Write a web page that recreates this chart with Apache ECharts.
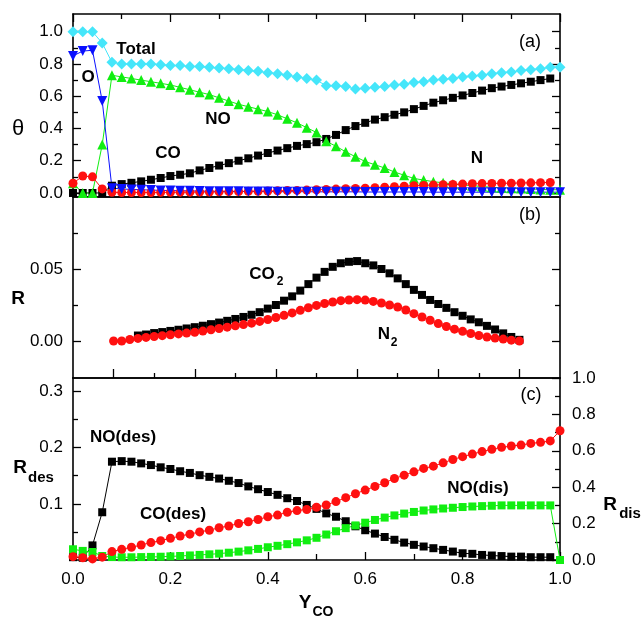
<!DOCTYPE html>
<html>
<head>
<meta charset="utf-8">
<script src="https://cdn.jsdelivr.net/npm/echarts@6.0.0/dist/echarts.min.js"></script>
<style>
  html, body { margin: 0; padding: 0; background: #fff; }
  #chart { width: 642px; height: 622px; }
</style>
</head>
<body>
<div id="chart"></div>
<script>
// Y_CO grid shared by all three panels
const YCO = [0,0.02,0.04,0.06,0.08,0.10,0.12,0.14,0.16,0.18,0.20,0.22,0.24,0.26,0.28,0.30,0.32,0.34,0.36,0.38,0.40,0.42,0.44,0.46,0.48,0.50,0.52,0.54,0.56,0.58,0.60,0.62,0.64,0.66,0.68,0.70,0.72,0.74,0.76,0.78,0.80,0.82,0.84,0.86,0.88,0.90,0.92,0.94,0.96,0.98,1.00];

// (a) coverages
const thetaTotal = [1.00,1.00,1.00,0.93,0.81, 0.80,0.80,0.80,0.80,0.795, 0.79,0.79,0.785,0.785,0.78, 0.775,0.77,0.765,0.76,0.755, 0.745,0.74,0.73,0.72,0.71, 0.70,0.665,0.665,0.66,0.645, 0.65,0.655,0.66,0.67,0.675, 0.685,0.69,0.70,0.705,0.71, 0.72,0.725,0.73,0.74,0.745, 0.75,0.76,0.765,0.77,0.78, 0.78];
const thetaNO = [0.06,0,0,0.30,0.73, 0.72,0.71,0.70,0.69,0.68, 0.67,0.655,0.64,0.625,0.61, 0.59,0.57,0.55,0.535,0.52, 0.505,0.485,0.46,0.435,0.405, 0.375,0.32,0.29,0.255,0.225, 0.195,0.175,0.155,0.13,0.11, 0.09,0.08,0.07,0.063,0.056, 0.05,0.045,0.04,0.035,0.032, 0.03,0.027,0.025,0.022,0.02, 0.02];
const thetaCO = [0,0,0,0,0.045, 0.055,0.063,0.072,0.082,0.093, 0.105,0.113,0.122,0.14,0.155, 0.17,0.185,0.20,0.215,0.232, 0.248,0.263,0.278,0.292,0.303, 0.315,0.335,0.36,0.39,0.415, 0.435,0.455,0.47,0.485,0.50, 0.52,0.54,0.56,0.575,0.59, 0.605,0.62,0.635,0.65,0.66, 0.67,0.68,0.69,0.70,0.71, null];
const thetaN = [0.06,0.105,0.10,0.025,0.004, 0.003,0.003,0.003,0.003,0.004, 0.004,0.005,0.005,0.006,0.006, 0.007,0.008,0.009,0.010,0.011, 0.012,0.013,0.015,0.016,0.018, 0.020,0.022,0.024,0.026,0.028, 0.030,0.033,0.036,0.039,0.042, 0.045,0.047,0.049,0.051,0.053, 0.055,0.057,0.058,0.059,0.060, 0.061,0.062,0.063,0.064,0.065, null];
const thetaO = [0.85,0.88,0.885,0.57,0.03, 0.025,0.022,0.02,0.018,0.016, 0.015,0.014,0.013,0.012,0.011, 0.010,0.010,0.010,0.009,0.009, 0.009,0.008,0.008,0.008,0.008, 0.007,0.007,0.007,0.007,0.007, 0.006,0.006,0.006,0.006,0.006, 0.006,0.006,0.005,0.005,0.005, 0.005,0.005,0.005,0.005,0.005, 0.005,0.005,0.005,0.005,0.005, 0.005];

// (b) production rates
const rateCO2 = [null,null,null,0.0038,0.0045, 0.0055,0.0062,0.007,0.0078,0.0087, 0.0096,0.0106,0.0117,0.0128,0.014, 0.0153,0.0167,0.0182,0.020,0.0225, 0.025,0.028,0.031,0.035,0.0395, 0.044,0.048,0.0515,0.054,0.055, 0.0555,0.054,0.0525,0.050,0.047, 0.0435,0.0395,0.0355,0.032,0.0285, 0.0257,0.023,0.020,0.0175,0.015, 0.013,0.0105,0.008,0.0053,0.0028, 0.0008];
const rateN2 = [0,0,0.001,0.0018,0.0025, 0.0031,0.0037,0.0043,0.0049,0.0055, 0.0061,0.0069,0.0078,0.0087,0.0096, 0.0105,0.0114,0.0124,0.0136,0.0149, 0.0163,0.0178,0.0195,0.0213,0.0231, 0.0247,0.026,0.0271,0.028,0.0285, 0.0287,0.0284,0.0275,0.0264,0.025, 0.0236,0.0215,0.019,0.0167,0.0144, 0.0121,0.0101,0.0082,0.0067,0.0052, 0.0038,0.0028,0.002,0.0013,0.0006, 0];

// (c) desorption (left scale) and dissociation (right scale) rates
const desNO = [0.005,0.004,0.026,0.085,0.175, 0.176,0.175,0.172,0.169,0.165, 0.162,0.158,0.155,0.151,0.148, 0.145,0.141,0.137,0.131,0.126, 0.121,0.116,0.110,0.105,0.098, 0.091,0.083,0.077,0.069,0.060, 0.053,0.047,0.041,0.036,0.031, 0.027,0.024,0.021,0.018,0.015, 0.012,0.011,0.009,0.008,0.007, 0.006,0.006,0.005,0.005,0.005, null];
const desCO = [0.006,0.004,0.002,0.005,0.015, 0.019,0.0226,0.0267,0.031,0.0344, 0.0386,0.0427,0.046,0.050,0.053, 0.0575,0.0605,0.065,0.068,0.072, 0.077,0.080,0.085,0.088,0.090, 0.094,0.098,0.104,0.111,0.118, 0.1245,0.131,0.1375,0.145,0.151, 0.157,0.163,0.167,0.173,0.179, 0.184,0.1886,0.193,0.197,0.2005, 0.203,0.2046,0.2076,0.2094,0.212, 0.23];
const disNO = [0.059,0.05,0.044,0.022,0.016, 0.015,0.015,0.016,0.017,0.018, 0.02,0.022,0.025,0.028,0.031, 0.035,0.04,0.046,0.053,0.061, 0.07,0.078,0.087,0.097,0.108, 0.122,0.14,0.158,0.175,0.19, 0.205,0.22,0.233,0.245,0.255, 0.264,0.272,0.278,0.283,0.287, 0.291,0.294,0.296,0.298,0.30, 0.30,0.30,0.30,0.30,0.30, 0.0];

// tick positions
const xLabels = [0,0.2,0.4,0.6,0.8,1.0];
const xMinor = [0.1,0.3,0.5,0.7,0.9];
const aLabels = [0,0.2,0.4,0.6,0.8,1.0];
const aMinor = [0.1,0.3,0.5,0.7,0.9];
const bLabels = [0,0.05];
const bMajor = [0,0.05];
const bMinor = [0.025,0.075];
const cLeftLabels = [0.1,0.2,0.3];
const cLeftMajor = [0.1,0.2,0.3];
const cLeftMinor = [0.05,0.15,0.25];
const cRightLabels = [0,0.2,0.4,0.6,0.8,1.0];
const cRightMinor = [0.1,0.3,0.5,0.7,0.9];

const FONT = '"Liberation Sans", Arial, Helvetica, sans-serif';
const LEFT = 73, WIDTH = 487;
const PANELS = [{top: 14, height: 183}, {top: 197, height: 181}, {top: 378, height: 182}];

const grids = [];
PANELS.forEach(p => {
  grids.push({left: LEFT, top: p.top, width: WIDTH, height: p.height});   // main
  grids.push({left: LEFT, top: p.top, width: WIDTH, height: p.height});   // minor-tick overlay
});

function ax(gridIndex, position, min, max, o) {
  o = o || {};
  const a = {
    type: 'value', gridIndex, position, min, max,
    axisLine: {show: o.line !== false, onZero: false, lineStyle: {color: '#000', width: 1.6}},
    axisTick: {show: !!o.ticks, inside: true, length: o.len || 8, lineStyle: {color: '#000', width: 1.3}},
    axisLabel: {show: !!o.labels, margin: o.margin || 10, fontFamily: FONT, fontSize: 17, color: '#000',
      formatter: v => v.toFixed(o.dec == null ? 1 : o.dec)},
    splitLine: {show: false}
  };
  if (o.ticks) a.axisTick.customValues = o.ticks;
  if (o.labels) a.axisLabel.customValues = o.labels;
  return a;
}

const xAxis = [
  // (a)
  ax(0, 'bottom', 0, 1, {ticks: xLabels}),
  ax(0, 'top', 0, 1, {ticks: xLabels}),
  ax(1, 'bottom', 0, 1, {line: false, ticks: xMinor, len: 5}),
  ax(1, 'top', 0, 1, {line: false, ticks: xMinor, len: 5}),
  // (b) its own Y_CO scale
  ax(2, 'bottom', -0.1, 1.1, {ticks: xLabels, len: 9}),
  ax(2, 'top', -0.1, 1.1, {}),
  ax(3, 'bottom', -0.1, 1.1, {line: false, ticks: xMinor, len: 5}),
  // (c)
  ax(4, 'bottom', 0, 1, {ticks: xLabels, labels: xLabels, margin: 11}),
  ax(4, 'top', 0, 1, {}),
  ax(5, 'bottom', 0, 1, {line: false, ticks: xMinor, len: 6})
];

const yAxis = [
  // (a)
  ax(0, 'left', -0.025, 1.11, {ticks: aLabels, labels: aLabels}),
  ax(0, 'right', -0.025, 1.11, {ticks: aLabels}),
  ax(1, 'left', -0.025, 1.11, {line: false, ticks: aMinor, len: 5}),
  ax(1, 'right', -0.025, 1.11, {line: false, ticks: aMinor, len: 5}),
  // (b)
  ax(2, 'left', -0.0257, 0.1, {ticks: bMajor, labels: bLabels, dec: 2}),
  ax(2, 'right', -0.0257, 0.1, {ticks: bMajor}),
  ax(3, 'left', -0.0257, 0.1, {line: false, ticks: bMinor, len: 5}),
  ax(3, 'right', -0.0257, 0.1, {line: false, ticks: bMinor, len: 5}),
  // (c)
  ax(4, 'left', 0, 0.324, {ticks: cLeftMajor, labels: cLeftLabels}),
  ax(4, 'right', 0, 1, {ticks: cRightLabels, labels: cRightLabels, margin: 12}),
  ax(5, 'left', 0, 0.324, {line: false, ticks: cLeftMinor, len: 5}),
  ax(5, 'right', 0, 1, {line: false, ticks: cRightMinor, len: 5})
];

function pts(xs, ys) {
  const out = [];
  xs.forEach((x, i) => { if (ys[i] != null) out.push([x, ys[i]]); });
  return out;
}

function series(name, ys, xi, yi, symbol, size, color, rotate) {
  return {
    type: 'line', name, data: pts(YCO, ys), xAxisIndex: xi, yAxisIndex: yi,
    symbol, symbolSize: size, symbolRotate: rotate || 0, showSymbol: true, showAllSymbol: true,
    lineStyle: {color, width: 1}, itemStyle: {color, borderWidth: 0},
    emphasis: {disabled: true}, clip: false
  };
}

const GREEN = '#11ee11', RED = '#ff1010', BLUE = '#0a10ff', CYAN = '#45e6fa', BLACK = '#000000';

const seriesList = [
  // (a)
  series('CO', thetaCO, 0, 0, 'rect', 8, BLACK),
  series('NO', thetaNO, 0, 0, 'triangle', 10, GREEN),
  series('N', thetaN, 0, 0, 'circle', 9, RED),
  series('O', thetaO, 0, 0, 'triangle', 10, BLUE, 180),
  series('Total', thetaTotal, 0, 0, 'diamond', [11, 11], CYAN),
  // (b)
  series('CO2', rateCO2, 4, 4, 'rect', 8, BLACK),
  series('N2', rateN2, 4, 4, 'circle', 9, RED),
  // (c)
  series('NO(des)', desNO, 7, 8, 'rect', 8, BLACK),
  series('NO(dis)', disNO, 7, 9, 'rect', 8, GREEN),
  series('CO(des)', desCO, 7, 8, 'circle', 9, RED)
];

function txt(text, x, y, size, bold) {
  return {
    type: 'text', x, y, z: 100,
    style: {
      text, font: (bold ? 'bold ' : '') + size + 'px ' + FONT, fill: '#000',
      align: 'center', verticalAlign: 'middle', textAlign: 'center', textVerticalAlign: 'middle'
    }
  };
}

const graphic = [
  // axis titles
  txt('θ', 18, 129, 22, false),
  txt('R', 18, 299, 19, true),
  txt('R', 20, 468, 19, true), txt('des', 41, 478, 15, true),
  txt('R', 610, 505, 19, true), txt('dis', 630, 514, 15, true),
  txt('Y', 305, 603, 19, true), txt('CO', 323, 612, 14, true),
  // panel tags
  txt('(a)', 530, 42, 18, false),
  txt('(b)', 530, 215, 18, false),
  txt('(c)', 531, 395, 18, false),
  // curve labels
  txt('Total', 136, 49, 17, true),
  txt('O', 88, 77, 17, true),
  txt('NO', 218, 119, 17, true),
  txt('CO', 168, 153, 17, true),
  txt('N', 477, 158, 17, true),
  txt('CO', 262, 274, 17, true), txt('2', 280, 282, 12, true),
  txt('N', 384, 334, 17, true), txt('2', 394, 343, 12, true),
  txt('NO(des)', 123, 437, 17, true),
  txt('CO(des)', 173, 514, 17, true),
  txt('NO(dis)', 478, 488, 17, true)
];

const chart = echarts.init(document.getElementById('chart'), null, {renderer: 'canvas'});
chart.setOption({
  animation: false,
  backgroundColor: '#fff',
  grid: grids,
  xAxis,
  yAxis,
  series: seriesList,
  graphic
});
</script>
</body>
</html>
